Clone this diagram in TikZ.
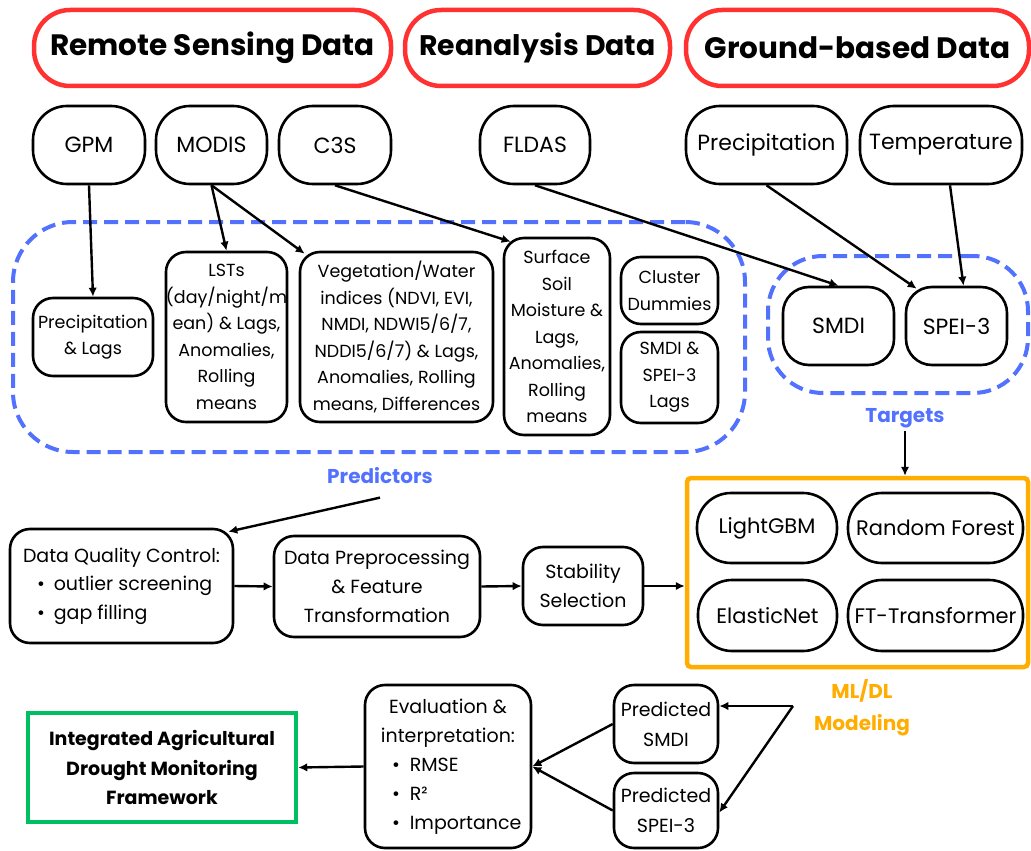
\documentclass[tikz,border=0pt]{standalone}
\usepackage{fontspec}
\setmainfont{Poppins}
\usetikzlibrary{arrows.meta,calc}
\definecolor{hred}{HTML}{FF3131}
\definecolor{dblue}{HTML}{5271FF}
\definecolor{morange}{HTML}{FFAD00}
\definecolor{fgreen}{HTML}{00BF63}
\begin{document}
\begin{tikzpicture}[x=1pt,y=-1pt,
  sz/.style 2 args={minimum width=#1pt, minimum height=#2pt},
  hdr/.style={draw=hred, line width=4.5pt, rounded corners=36pt, inner sep=0pt,
    font=\fontsize{29.5}{34}\selectfont\bfseries},
  src/.style={draw, line width=2.6pt, rounded corners=34pt, inner sep=0pt,
    font=\fontsize{22}{26}\selectfont},
  feat/.style={draw, line width=2.6pt, rounded corners=20pt, inner sep=0pt, align=center,
    font=\fontsize{17.5}{26.5}\selectfont},
  tgt/.style={draw, line width=2.6pt, rounded corners=26pt, inner sep=0pt,
    font=\fontsize{22}{26}\selectfont},
  grp/.style={draw=dblue, line width=4pt, dash pattern=on 14pt off 7pt},
  proc/.style={draw, line width=2.6pt, rounded corners=20pt, inner sep=0pt, align=center,
    font=\fontsize{19}{29}\selectfont},
  mdl/.style={draw, line width=2.6pt, rounded corners=34pt, inner sep=0pt,
    font=\fontsize{21}{26}\selectfont},
  lbl/.style={font=\fontsize{20}{32}\selectfont\bfseries, align=center},
  arr/.style={line width=2.4pt, -{Latex[length=9pt,width=8.5pt]}},
  ln/.style={line width=2.4pt}
]
\useasboundingbox (0,0) rectangle (1031,851);

% headers
\node[hdr, sz={357}{76}] (hrs) at (212.5,48) {Remote Sensing Data};
\node[hdr, sz={265}{76}, font=\fontsize{28.3}{34}\selectfont\bfseries] (hra) at (537.5,48) {Reanalysis Data};
\node[hdr, sz={343}{76}] (hgb) at (857.5,48) {Ground-based Data};

% sources
\node[src, sz={112}{78}] (gpm) at (89,145) {GPM};
\node[src, sz={111}{78}] (modis) at (211.5,145) {MODIS};
\node[src, sz={112}{78}] (c3s) at (335,145) {C3S};
\node[src, sz={110}{78}] (fldas) at (535,145) {FLDAS};
\node[src, sz={161}{78}] (prec) at (766.5,145) {Precipitation};
\node[src, sz={162}{78}] (temp) at (941,145) {Temperature};

% groups
\node[grp, rounded corners=60pt, sz={732}{230}] (pred) at (379,337) {};
\node[grp, rounded corners=55pt, sz={260}{137}] (targ) at (898,324.5) {};

% predictor features
\node[feat, sz={120}{78}] (pl) at (93,337) {Precipitation\\\& Lags};
\node[feat, sz={121}{170}] (lst) at (226.5,337) {LSTs\\(day/night/m\\ean) \& Lags,\\Anomalies,\\Rolling\\means};
\node[feat, sz={193}{170}] (veg) at (396.5,337) {Vegetation/Water\\indices (NDVI, EVI,\\NMDI, NDWI5/6/7,\\NDDI5/6/7) \& Lags,\\Anomalies, Rolling\\means, Differences};
\node[feat, sz={106}{197}] (ssm) at (557,336.5) {Surface\\Soil\\Moisture \&\\Lags,\\Anomalies,\\Rolling\\means};
\node[feat, sz={97}{67}] (cd) at (669.5,290.5) {Cluster\\Dummies};
\node[feat, sz={97}{91}] (lag) at (669.5,377.5) {SMDI \&\\SPEI-3\\Lags};

% targets
\node[tgt, sz={111}{78}] (smdi) at (838.5,326) {SMDI};
\node[tgt, sz={101}{78}] (spei) at (956.5,326) {SPEI-3};

\node[lbl, text=dblue] (plab) at (380,476) {Predictors};
\node[lbl, text=dblue] (tlab) at (905,418) {Targets};

% processing row
\node[proc, sz={223}{114}, align=left] (dq) at (121.5,586) {Data Quality Control:\\[-1pt]
  \hspace*{14pt}\textbullet\hspace{9pt}outlier screening\\
  \hspace*{14pt}\textbullet\hspace{9pt}gap filling};
\node[proc, sz={206}{101}] (pre) at (377,586.5) {Data Preprocessing\\\& Feature\\Transformation};
\node[proc, sz={120}{78}] (stab) at (583,586) {Stability\\Selection};

% ML box
\node[draw=morange, line width=4.5pt, rounded corners=4pt, sz={341}{189}] (ml) at (857.5,572.5) {};
\node[mdl, sz={140}{70}] (lgbm) at (767,528) {LightGBM};
\node[mdl, sz={175}{70}] (rf) at (935.5,528) {Random Forest};
\node[mdl, sz={139}{71}] (en) at (767.5,615.5) {ElasticNet};
\node[mdl, sz={175}{71}] (ft) at (935.5,615.5) {FT-Transformer};
\node[lbl, text=morange] (mlab) at (862,708) {ML/DL\\Modeling};

% bottom row
\node[draw=fgreen, line width=4.5pt, sz={268}{109}, align=center, inner sep=0pt,
  font=\fontsize{19}{29.5}\selectfont\bfseries] (integ) at (162,767.5)
  {Integrated Agricultural\\Drought Monitoring\\Framework};
\node[proc, sz={166}{163}] (eval) at (448,766.5) {Evaluation \&\\interpretation:\\
  \makebox[136pt][l]{\hspace*{12pt}\textbullet\hspace{10pt}RMSE}\\
  \makebox[136pt][l]{\hspace*{12pt}\textbullet\hspace{10pt}R²}\\
  \makebox[136pt][l]{\hspace*{12pt}\textbullet\hspace{10pt}Importance}};
\node[proc, sz={104}{78}, font=\fontsize{19}{30}\selectfont] (psmdi) at (666,724) {Predicted\\SMDI};
\node[proc, sz={104}{75}, font=\fontsize{19}{30}\selectfont] (pspei) at (666,810.5) {Predicted\\SPEI-3};
\coordinate (fork) at (793,706);

% connectors
\draw[arr] (gpm.south) -- (pl.north);
\draw[arr] (modis.south) -- (lst.north);
\draw[arr] (modis.south) -- ([xshift=6pt,yshift=-3pt]veg.north west);
\draw[arr] (c3s.south) -- ([xshift=8pt,yshift=-5pt]ssm.north west);
\draw[arr] (fldas.south) -- (smdi.north);
\draw[arr] (prec.south) -- ([xshift=12pt,yshift=-3pt]spei.north west);
\draw[arr] ([xshift=9pt]temp.south) -- ([xshift=7pt]spei.north);
\draw[arr] (tlab.south) -- (tlab.south |- ml.north);
\draw[arr] ([xshift=0pt,yshift=-10pt]plab.south) -- ([xshift=-6pt,yshift=-4pt]dq.north east);
\draw[arr] (dq.east) -- (pre.west);
\draw[arr] (pre.east) -- (stab.west);
\draw[arr] (stab.east) -- (stab.east -| ml.west);
\draw[arr] (eval.west) -- (integ.east);
\draw[arr] (psmdi.west) -- (eval.east);
\draw[arr] (pspei.west) -- (eval.east);
\draw[arr] (fork) -- (fork -| psmdi.east);
\draw[arr] (fork) -- ([yshift=-2pt]pspei.east);
\end{tikzpicture}
\end{document}
